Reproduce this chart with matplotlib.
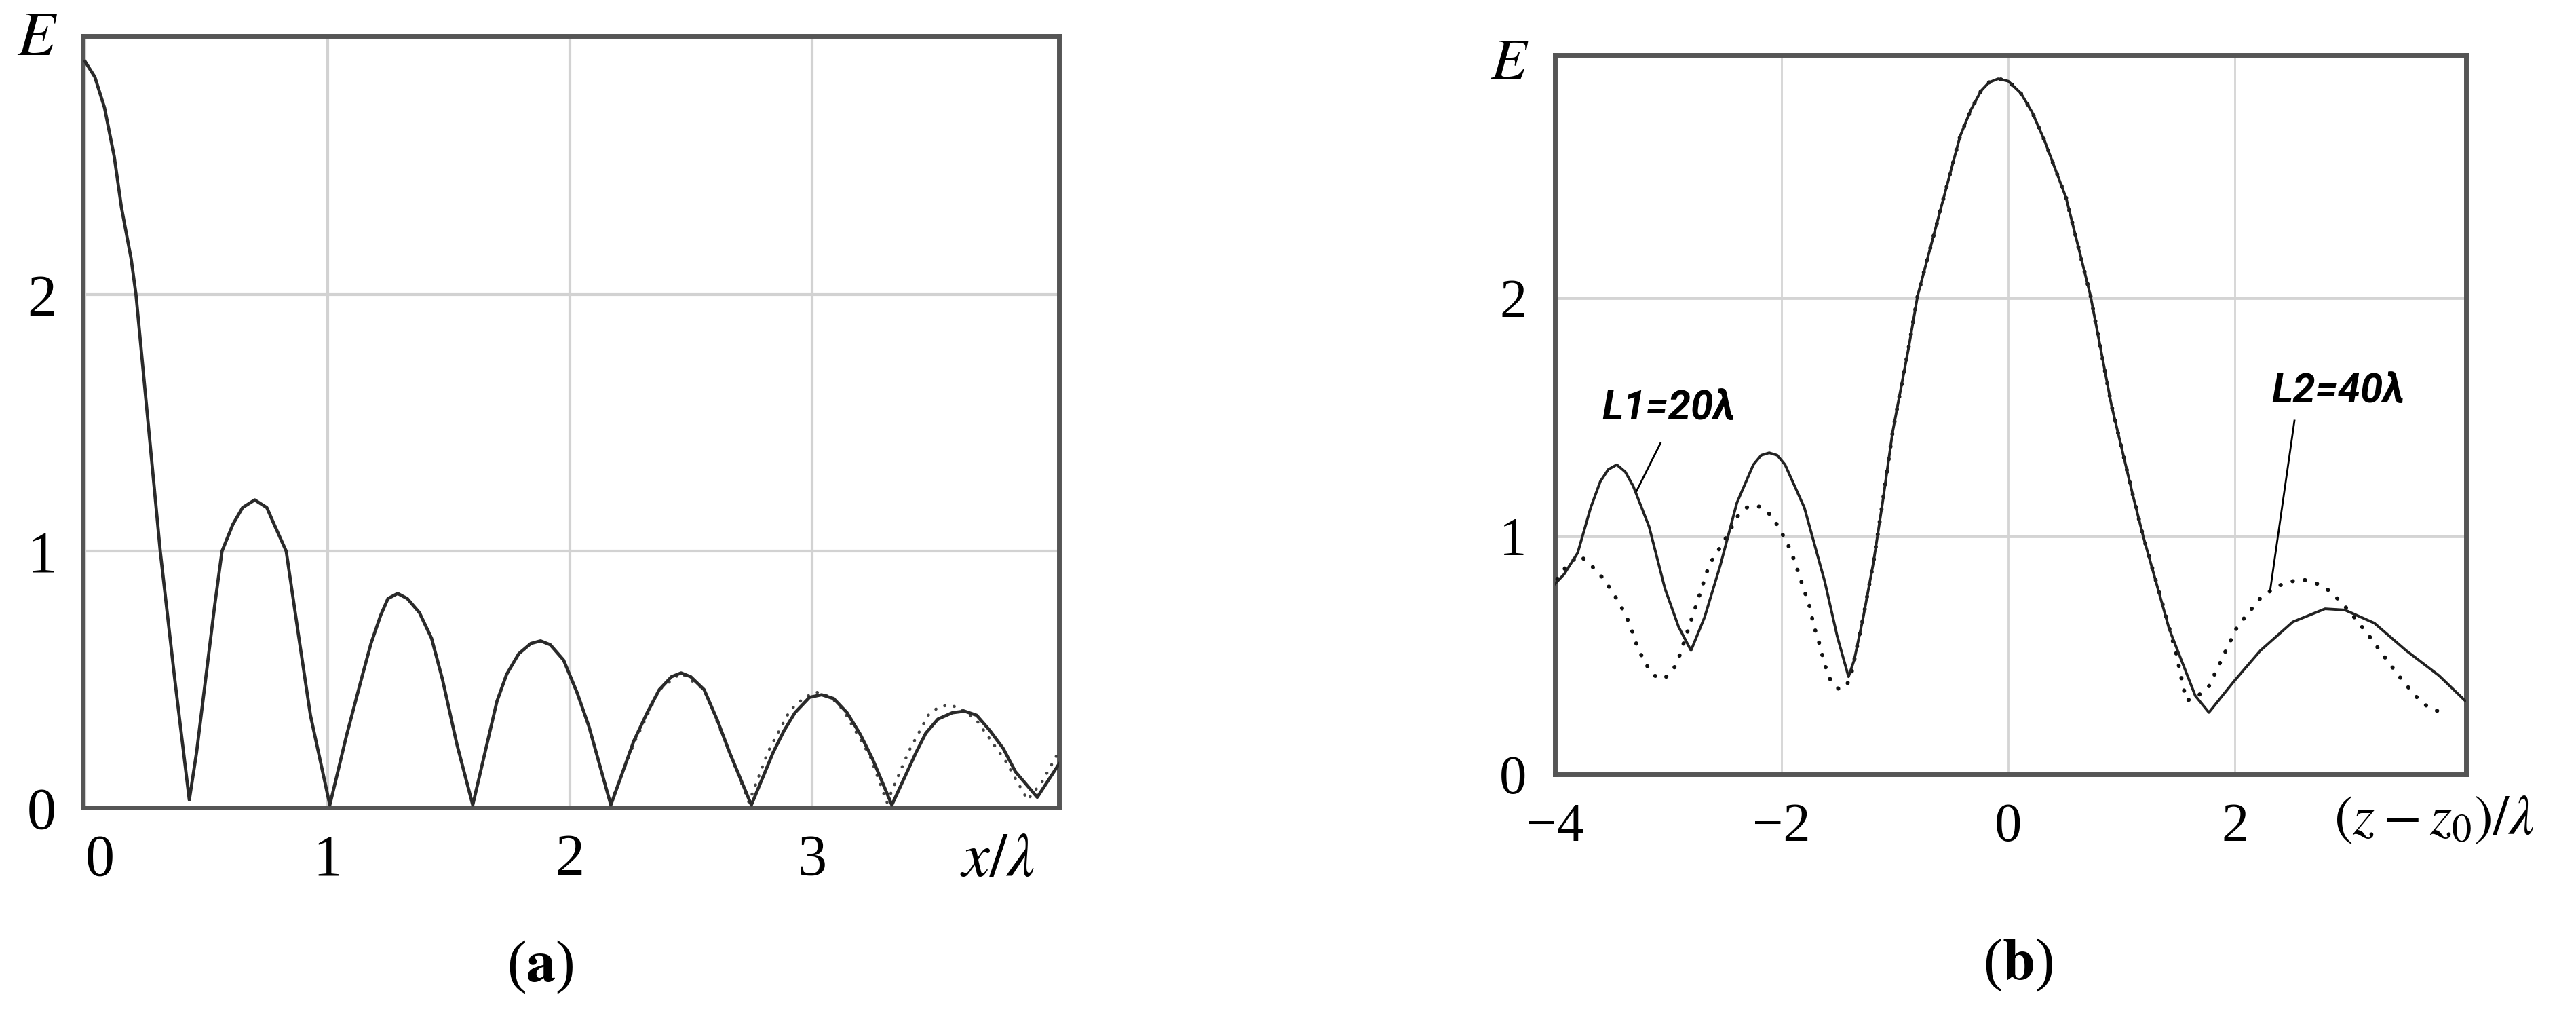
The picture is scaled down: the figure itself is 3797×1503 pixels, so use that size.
import matplotlib
matplotlib.use("Agg")
import matplotlib.pyplot as plt

plt.rcParams['mathtext.fontset'] = 'stix'
plt.rcParams['font.family'] = ['Liberation Serif', 'DejaVu Serif']

# (a) E along x/lambda, solid curve
a_x = [0.00, 0.04, 0.08, 0.12, 0.15, 0.19, 0.21, 0.26, 0.31, 0.37, 0.43,
       0.46, 0.535, 0.565, 0.61, 0.65, 0.70, 0.75, 0.78, 0.83, 0.885, 0.93, 1.01,
       1.08, 1.14, 1.18, 1.22, 1.25, 1.29, 1.33, 1.38, 1.43, 1.475, 1.535, 1.60,
       1.70, 1.74, 1.79, 1.84, 1.88, 1.92, 1.975, 2.03, 2.08, 2.17,
       2.265, 2.32, 2.37, 2.42, 2.46, 2.50, 2.555, 2.61, 2.66, 2.75,
       2.84, 2.885, 2.93, 2.99, 3.04, 3.09, 3.145, 3.20, 3.25, 3.33,
       3.43, 3.47, 3.52, 3.58, 3.63, 3.68, 3.735, 3.79, 3.84, 3.93, 4.02]
a_solid = [2.91, 2.85, 2.73, 2.54, 2.34, 2.14, 2.00, 1.50, 1.00, 0.50, 0.03,
           0.215, 0.79, 1.00, 1.105, 1.17, 1.20, 1.17, 1.105, 1.00, 0.645, 0.36, 0.01,
           0.285, 0.50, 0.64, 0.75, 0.815, 0.835, 0.815, 0.76, 0.66, 0.50, 0.245, 0.01,
           0.415, 0.52, 0.60, 0.64, 0.65, 0.635, 0.575, 0.45, 0.315, 0.01,
           0.26, 0.37, 0.46, 0.51, 0.525, 0.51, 0.46, 0.34, 0.215, 0.01,
           0.215, 0.30, 0.37, 0.43, 0.44, 0.425, 0.37, 0.285, 0.19, 0.01,
           0.215, 0.29, 0.345, 0.37, 0.376, 0.36, 0.30, 0.23, 0.14, 0.04, 0.17]

# (a) dotted curve, only visible where it leaves the solid one
a_dot_x = [2.17, 2.27, 2.37, 2.46, 2.555, 2.66, 2.74, 2.82, 2.91, 2.97, 3.02, 3.08,
           3.13, 3.24, 3.31, 3.40, 3.48, 3.52, 3.56, 3.61, 3.68, 3.80, 3.89, 3.95, 4.02]
a_dot = [0.02, 0.26, 0.46, 0.525, 0.46, 0.215, 0.02, 0.22, 0.38, 0.43, 0.45, 0.43,
         0.38, 0.20, 0.02, 0.22, 0.36, 0.39, 0.40, 0.39, 0.34, 0.18, 0.03, 0.10, 0.22]

# (b) E along (z - z0)/lambda, L1 = 20 lambda (solid)
b_x1 = [-4.00, -3.92, -3.80, -3.685, -3.60, -3.53, -3.455, -3.38, -3.31, -3.17,
        -3.03, -2.91, -2.80, -2.68, -2.54, -2.395, -2.25, -2.18, -2.11, -2.04,
        -1.97, -1.80, -1.62, -1.51, -1.41, -1.36, -1.28, -1.19, -1.11, -1.02,
        -0.88, -0.80, -0.61, -0.425, -0.33, -0.24, -0.17, -0.09, 0.00, 0.11,
        0.21, 0.32, 0.51, 0.725, 0.91, 1.10, 1.19, 1.42, 1.65, 1.77,
        1.99, 2.225, 2.51, 2.795, 2.97, 3.23, 3.51, 3.80, 4.03]
b_l1 = [0.80, 0.84, 0.93, 1.12, 1.23, 1.28, 1.30, 1.27, 1.21, 1.04,
        0.78, 0.62, 0.52, 0.66, 0.88, 1.14, 1.30, 1.34, 1.35, 1.34,
        1.30, 1.12, 0.81, 0.58, 0.41, 0.48, 0.66, 0.89, 1.14, 1.44,
        1.79, 2.01, 2.35, 2.68, 2.79, 2.87, 2.905, 2.92, 2.91, 2.86,
        2.78, 2.66, 2.42, 2.01, 1.55, 1.17, 1.00, 0.61, 0.33, 0.26,
        0.39, 0.52, 0.64, 0.695, 0.69, 0.635, 0.52, 0.415, 0.31]

# (b) L2 = 40 lambda (dotted)
b_x2 = [-3.98, -3.89, -3.785, -3.685, -3.57, -3.485, -3.40, -3.34, -3.28, -3.21,
        -3.125, -3.04, -2.955, -2.90, -2.80, -2.74, -2.64, -2.54, -2.47, -2.395,
        -2.31, -2.24, -2.17, -2.08, -1.995, -1.92, -1.865, -1.81, -1.75, -1.72,
        -1.665, -1.62, -1.565, -1.50, -1.45, -1.395, -1.28, -1.19, -1.11, -1.02,
        -0.88, -0.80, -0.61, -0.425, -0.33, -0.24, -0.17, -0.09, 0.00, 0.11,
        0.21, 0.32, 0.51, 0.725, 0.91, 1.10, 1.19, 1.40, 1.48, 1.57,
        1.65, 1.77, 1.88, 2.02, 2.225, 2.37, 2.57, 2.68, 2.795, 2.88,
        3.00, 3.17, 3.34, 3.485, 3.63, 3.74, 3.885]
b_l2 = [0.82, 0.88, 0.92, 0.88, 0.82, 0.76, 0.69, 0.63, 0.545, 0.47,
        0.415, 0.40, 0.44, 0.50, 0.645, 0.73, 0.88, 0.955, 1.01, 1.08,
        1.12, 1.13, 1.12, 1.08, 1.01, 0.94, 0.865, 0.785, 0.70, 0.63,
        0.545, 0.46, 0.39, 0.36, 0.36, 0.40, 0.66, 0.89, 1.14, 1.44,
        1.79, 2.01, 2.35, 2.68, 2.79, 2.87, 2.905, 2.92, 2.91, 2.86,
        2.78, 2.66, 2.42, 2.01, 1.55, 1.17, 1.00, 0.65, 0.51, 0.31,
        0.32, 0.37, 0.48, 0.62, 0.74, 0.79, 0.82, 0.81, 0.785, 0.75,
        0.69, 0.59, 0.48, 0.39, 0.31, 0.27, 0.26]

a_xticks = [0, 1, 2, 3]
a_yticks = [0, 1, 2]
b_xticks = [-4, -2, 0, 2]
b_yticks = [0, 1, 2]

fig = plt.figure(figsize=(37.98, 15.03), dpi=100)
ax1 = fig.add_axes([0.0321, 0.2083, 0.3789, 0.7565])
ax2 = fig.add_axes([0.6035, 0.2408, 0.3536, 0.7053])

dots = (0, (0.1, 3.1))

# panel (a)
ax1.plot(a_dot_x, a_dot, color='#444444', lw=3.2, linestyle=dots,
         dash_capstyle='round', zorder=3)
ax1.plot(a_x, a_solid, color='#2a2a2a', lw=3.4, zorder=4)
ax1.set_xlim(-0.01, 4.02)
ax1.set_ylim(0, 3.01)
ax1.set_xticks(a_xticks)
ax1.set_yticks(a_yticks)
ax1.grid(True, color='#d2d2d2', lw=3)
ax1.tick_params(length=0, labelsize=62, pad=28)
ax1.get_xticklabels()[0].set_ha('left')

# panel (b)
ax2.plot(b_x2, b_l2, color='#111111', lw=4.2, linestyle=dots,
         dash_capstyle='round', zorder=3)
ax2.plot(b_x1, b_l1, color='#222222', lw=2.8, zorder=4)
ax2.set_xlim(-4.0, 4.04)
ax2.set_ylim(0, 3.02)
ax2.set_xticks(b_xticks)
ax2.set_yticks(b_yticks)
ax2.xaxis.grid(True, color='#d4d4d4', lw=2)
ax2.yaxis.grid(True, color='#d4d4d4', lw=3.5)
ax2.tick_params(length=0, labelsize=58, pad=30)

for ax in (ax1, ax2):
    ax.set_axisbelow(True)
    for sp in ax.spines.values():
        sp.set_color('#555555')
        sp.set_linewidth(5)

# curve labels with leader lines
lbl = dict(family=['Roboto', 'DejaVu Sans'], weight='bold', style='italic',
           fontsize=43, ha='center', va='center')
ax2.text(-3.00, 1.54, 'L1=20λ', **lbl)
ax2.plot([-3.07, -3.28], [1.39, 1.19], color='black', lw=2, zorder=5)
ax2.text(2.91, 1.61, 'L2=40λ', **lbl)
ax2.plot([2.525, 2.31], [1.485, 0.77], color='black', lw=2, zorder=5)

# axis names and captions
fig.text(0.0145, 0.9607, r'$E$', fontsize=66, ha='center', va='center')
fig.text(0.5858, 0.9368, r'$E$', fontsize=62, ha='center', va='center')
fig.text(0.3870, 0.1560, r'$x/\lambda$', fontsize=66, ha='center', va='center')
fig.text(0.9447, 0.1950, r'$(z-z_0)/\lambda$', fontsize=60, ha='center', va='center')
fig.text(0.2096, 0.0519, r'($\mathbf{a}$)', fontsize=62, ha='center', va='center')
fig.text(0.7833, 0.0539, r'($\mathbf{b}$)', fontsize=62, ha='center', va='center')

fig.savefig('out.png', dpi=100)
